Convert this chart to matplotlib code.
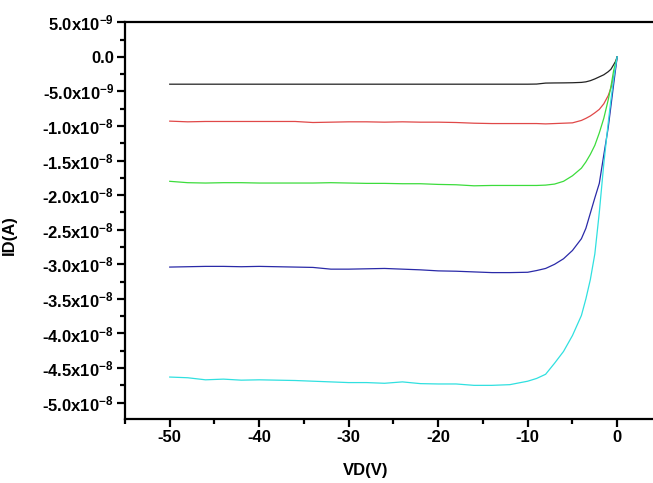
import math
import matplotlib
matplotlib.use("Agg")
import matplotlib.pyplot as plt
from matplotlib.ticker import MultipleLocator, FuncFormatter

plt.rcParams['font.family'] = ['Liberation Sans', 'DejaVu Sans']
plt.rcParams['mathtext.fontset'] = 'custom'
plt.rcParams['mathtext.rm'] = 'Liberation Sans'
plt.rcParams['mathtext.default'] = 'regular'

# drain voltage (V)
vd = [-50, -48, -46, -44, -42, -40, -38, -36, -34, -32, -30, -28, -26, -24, -22,
      -20, -18, -16, -14, -12, -10, -9, -8, -7, -6, -5, -4, -3.5, -3, -2.5, -2,
      -1.5, -1, -0.7, -0.4, -0.2, 0]

# drain current (nA), one list per gate voltage
id_black = [-3.96, -3.96, -3.96, -3.96, -3.96, -3.96, -3.96, -3.96, -3.96, -3.96, -3.96,
            -3.96, -3.96, -3.96, -3.96, -3.96, -3.96, -3.96, -3.96, -3.96, -3.96,
            -3.94, -3.8, -3.78, -3.77, -3.75, -3.7, -3.62, -3.45, -3.2, -2.9,
            -2.6, -2.15, -1.8, -1.15, -0.7, 0]
id_red = [-9.3, -9.4, -9.35, -9.35, -9.35, -9.35, -9.35, -9.35, -9.5, -9.45, -9.4,
          -9.4, -9.45, -9.4, -9.45, -9.45, -9.5, -9.6, -9.65, -9.65, -9.65,
          -9.65, -9.7, -9.65, -9.6, -9.55, -9.2, -8.9, -8.55, -8.1, -7.6,
          -6.8, -5.6, -4.5, -2.9, -1.6, 0]
id_green = [-18.0, -18.2, -18.25, -18.2, -18.2, -18.25, -18.25, -18.25, -18.25, -18.2, -18.25,
            -18.3, -18.3, -18.35, -18.35, -18.45, -18.5, -18.65, -18.6, -18.6, -18.6,
            -18.6, -18.55, -18.4, -18.0, -17.2, -16.1, -15.2, -14.1, -12.8, -11.0,
            -8.9, -6.2, -4.3, -2.0, -1.0, 0]
id_blue = [-30.4, -30.35, -30.3, -30.3, -30.35, -30.3, -30.35, -30.4, -30.45, -30.7, -30.7,
           -30.65, -30.6, -30.7, -30.8, -30.95, -31.0, -31.1, -31.2, -31.2, -31.15,
           -30.9, -30.6, -30.0, -29.2, -28.0, -26.3, -24.8, -22.6, -20.4, -18.3,
           -14.2, -10.2, -7.1, -4.0, -2.0, 0]
id_cyan = [-46.3, -46.4, -46.7, -46.6, -46.75, -46.7, -46.75, -46.8, -46.9, -47.0, -47.1,
           -47.1, -47.2, -47.0, -47.25, -47.3, -47.3, -47.5, -47.5, -47.4, -46.9,
           -46.5, -45.9, -44.3, -42.6, -40.3, -37.4, -35.0, -32.2, -28.5, -22.5,
           -15.5, -9.5, -6.2, -3.2, -1.5, 0]

curves = [(id_black, "#222222"), (id_red, "#e04848"), (id_green, "#3cdc3c"),
          (id_blue, "#2a2aa8"), (id_cyan, "#30e0e0")]


def sci_fmt(v, pos):
    if abs(v) < 1e-15:
        return "0.0"
    e = int(math.floor(math.log10(abs(v)) + 1e-9))
    m = v / 10 ** e
    return "%.1fx10$^{%d}$" % (m, e)


fig = plt.figure(figsize=(6.53, 4.83), dpi=100)
ax = fig.add_axes([0.1914, 0.132, 0.8086, 0.822])

for ys, c in curves:
    ax.plot(vd, [y * 1e-9 for y in ys], color=c, lw=0.9)

ax.set_xlim(-55, 4.0)
ax.set_ylim(-5.24e-8, 5e-9)
ax.xaxis.set_major_locator(MultipleLocator(10))
ax.xaxis.set_minor_locator(MultipleLocator(5))
ax.yaxis.set_major_locator(MultipleLocator(5e-9))
ax.yaxis.set_minor_locator(MultipleLocator(2.5e-9))
ax.yaxis.set_major_formatter(FuncFormatter(sci_fmt))
ax.xaxis.set_major_formatter(FuncFormatter(lambda v, p: "%d" % v))

ax.spines['right'].set_visible(False)
for s in ('left', 'bottom', 'top'):
    ax.spines[s].set_linewidth(1.6)
ax.tick_params(which='major', direction='out', length=6, width=1.6, labelsize=12, pad=2)
ax.tick_params(which='minor', direction='out', length=3.5, width=1.6)
ax.tick_params(top=False, right=False)
for lab in ax.get_xticklabels() + ax.get_yticklabels():
    lab.set_fontweight('bold')

ax.set_xlabel("VD(V)", fontsize=12, fontweight='bold')
ax.set_ylabel("ID(A)", fontsize=12, fontweight='bold')
ax.xaxis.set_label_coords(0.455, -0.11)
ax.yaxis.set_label_coords(-0.205, 0.464)

fig.savefig("out.png", dpi=100)
